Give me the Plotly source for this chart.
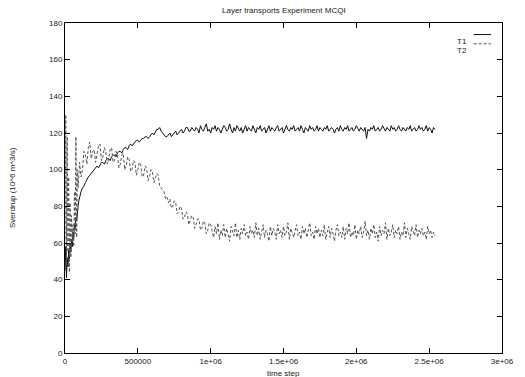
import plotly.graph_objects as go

title = "Layer transports Experiment MCQI"
x_title = "time step"
y_title = "Sverdrup (10^6 m^3/s)"

x_tickvals = [0, 500000, 1000000, 1500000, 2000000, 2500000, 3000000]
x_ticktext = ["0", "500000", "1e+06", "1.5e+06", "2e+06", "2.5e+06", "3e+06"]
y_tickvals = [0, 20, 40, 60, 80, 100, 120, 140, 160, 180]

# early time steps (dense), then regular steps of 10000
t_early = [0, 5000, 10000, 15000, 20000, 25000, 30000, 35000, 40000, 45000,
           50000, 55000, 60000, 65000, 70000, 75000, 80000, 85000, 90000, 95000]
main_start = 100000
main_step = 10000

t1_early = [45, 58, 41, 52, 47, 56, 50, 60, 55, 62, 58, 66, 63, 70, 68, 74, 72, 78, 80, 83]
t2_early = [62, 130, 48, 118, 55, 96, 44, 82, 52, 75, 60, 70, 58, 88, 65, 118, 63, 100, 90, 98]

t1_main = [
    85, 88, 90, 91, 93, 95, 96, 97, 98, 99, 100, 101, 102, 101, 103, 104, 104, 103, 105, 106,
    106, 105, 107, 108, 108, 107, 109, 110, 110, 109, 111, 112, 112, 111, 113, 114, 113, 114,
    115, 116, 116, 115, 116, 117, 117, 118, 118, 117, 118, 119, 120, 119, 121, 122, 122, 123,
    121, 120, 119, 118, 118, 119, 120, 118, 119, 120, 121, 119, 120, 121, 122, 120, 121, 123,
    123, 121, 121, 123, 122,
    121, 123, 122, 120, 124, 122, 121, 123, 125, 121, 122, 120, 123, 122, 124,
    121, 123, 122, 120, 122, 124, 123, 121, 122, 125, 122, 120, 123, 121, 124,
    122, 121, 123, 120, 122, 124, 121, 123, 122, 121, 124, 122, 120, 123, 122,
    124, 121, 122, 123, 120, 122, 124, 121, 123, 122, 121, 123, 124, 121, 122,
    123, 120, 122, 124, 122, 121, 123, 122, 124, 121, 122, 123, 121, 124, 122,
    120, 123, 122, 121, 124, 122, 123, 121, 122, 124, 121, 123, 122, 121, 123,
    122, 124, 121, 122, 123, 122, 120, 122, 123, 121, 124, 122, 121, 123, 122,
    124, 121, 122, 123, 121, 122, 124, 122, 121, 123, 122, 121, 123, 117, 122,
    121, 123, 122, 124, 121, 122, 123, 121, 122, 124, 122, 121, 123, 122, 121,
    124, 122, 123, 121, 122, 124, 122, 121, 123, 122, 121, 123, 122, 124, 121,
    122, 123, 121, 122, 124, 122,
    123, 121, 122, 124, 121, 123, 122, 120, 123, 122,
]

t2_main = [
    104, 96, 100, 110, 108, 103, 112, 115, 106, 110, 111, 104, 108, 113, 114, 105, 107, 112,
    110, 103, 106, 111, 112, 104, 105, 110, 108, 101, 103, 108, 109, 100, 102, 107, 106, 99,
    100, 105, 104, 97, 100, 104, 103, 96, 97, 102, 101, 94, 96, 100, 99, 93, 95, 98, 97, 91,
    90, 89, 88, 84, 85, 82, 84, 79, 80, 83, 82, 76, 77, 80, 79, 73, 74, 77, 76, 70, 72, 75,
    74, 68, 70, 73, 73, 67, 68, 72, 71, 65, 67, 71, 70,
    66, 63, 69, 65, 71, 62, 67, 64, 70, 63, 68, 65, 61, 69, 66,
    64, 71, 63, 67, 62, 68, 65, 70, 64, 66, 62, 69, 65, 67, 63,
    71, 64, 68, 62, 66, 70, 63, 67, 65, 61, 69, 64, 68, 66, 62,
    70, 65, 67, 63, 69, 64, 66, 71, 62, 68, 65, 63, 67, 70, 64,
    66, 62, 69, 65, 68, 63, 67, 71, 64, 66, 62, 69, 65, 68, 63,
    67, 64, 70, 62, 66, 69, 63, 68, 65, 61, 67, 70, 64, 66, 63,
    69, 62, 68, 65, 71, 63, 66, 64, 70, 62, 67, 65, 69, 63, 66,
    72, 64, 67, 62, 68, 65, 70, 63, 66, 61, 69, 64, 67, 65, 71,
    62, 68, 64, 66, 70, 63, 67, 65, 69, 62, 66, 64, 71, 63, 68,
    65, 62, 69, 66, 64, 70, 63, 67, 65, 68,
    64, 66, 62, 69, 65, 67, 63, 66, 64,
]

x1 = t_early + [main_start + main_step * i for i in range(len(t1_main))]
x2 = t_early + [main_start + main_step * i for i in range(len(t2_main))]
y1 = t1_early + t1_main
y2 = t2_early + t2_main

font = "Liberation Sans, Arial, sans-serif"
tcol = "#222222"

fig = go.Figure()
fig.add_trace(go.Scatter(x=x1, y=y1, mode="lines", name="T1",
                         line=dict(color="#111111", width=1)))
fig.add_trace(go.Scatter(x=x2, y=y2, mode="lines", name="T2",
                         line=dict(color="#555555", width=1, dash="3px,2px")))

axis_common = dict(showline=True, linecolor="black", linewidth=1, mirror="ticks",
                   ticks="inside", ticklen=5, tickcolor="black", showgrid=False,
                   zeroline=False, ticklabeloverflow="allow",
                   tickfont=dict(family=font, size=8, color=tcol))

fig.update_layout(
    width=525, height=377,
    margin=dict(l=65, r=11, t=23, b=24),
    paper_bgcolor="white", plot_bgcolor="white",
    showlegend=False,
    xaxis=dict(range=[0, 3000000], tickvals=x_tickvals, ticktext=x_ticktext, **axis_common),
    yaxis=dict(range=[0, 180], tickvals=y_tickvals, **axis_common),
    annotations=[
        dict(text=title, xref="paper", yref="paper", x=0.5, y=1, yshift=6,
             showarrow=False, yanchor="bottom", font=dict(family=font, size=8, color=tcol)),
        dict(text=x_title, xref="paper", yref="paper", x=0.5, y=0, yshift=-14,
             showarrow=False, yanchor="top", font=dict(family=font, size=8, color=tcol)),
        dict(text=y_title, xref="paper", yref="paper", x=0, xshift=-53, y=0.5,
             showarrow=False, textangle=-90, xanchor="center",
             font=dict(family=font, size=8, color=tcol)),
        dict(text="T1", xref="paper", yref="paper", x=0.925, y=0.965,
             showarrow=False, xanchor="right", font=dict(family=font, size=8, color=tcol)),
        dict(text="T2", xref="paper", yref="paper", x=0.925, y=0.937,
             showarrow=False, xanchor="right", font=dict(family=font, size=8, color=tcol)),
    ],
    shapes=[
        dict(type="line", xref="paper", yref="paper", x0=0.935, x1=0.975, y0=0.965, y1=0.965,
             line=dict(color="#111111", width=1)),
        dict(type="line", xref="paper", yref="paper", x0=0.935, x1=0.975, y0=0.937, y1=0.937,
             line=dict(color="#555555", width=1, dash="3px,2px")),
    ],
)

fig.write_html("out.html")
